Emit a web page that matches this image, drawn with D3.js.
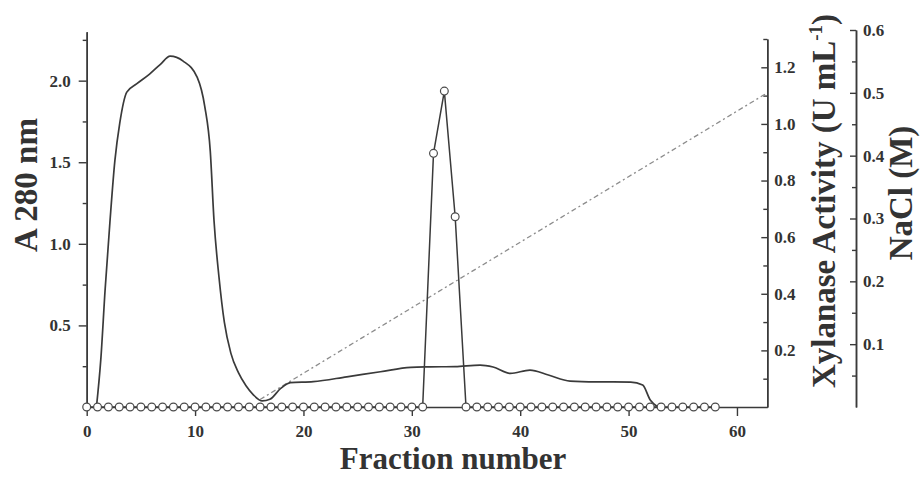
<!DOCTYPE html>
<html>
<head>
<meta charset="utf-8">
<script src="https://cdn.jsdelivr.net/npm/d3@7"></script>
<style>
  html, body { margin: 0; padding: 0; background: #fff; }
  svg { display: block; }
  .tick text { font-family: "Liberation Serif", "Times New Roman", serif; font-weight: bold; font-size: 17px; fill: #333; }
  .title { font-family: "Liberation Serif", "Times New Roman", serif; font-weight: bold; font-size: 33px; fill: #333; }
</style>
</head>
<body>
<svg id="chart" width="920" height="478"></svg>
<script>
// Fraction numbers collected from the column
const fractions = [0,1,2,3,4,5,6,7,8,9,10,11,12,13,14,15,16,17,18,19,20,21,22,23,24,25,26,27,28,29,
                   30,31,32,33,34,35,36,37,38,39,40,41,42,43,44,45,46,47,48,49,50,51,52,53,54,55,56,57,58];
// Xylanase activity per fraction (U mL-1)
const xylanaseActivity = [0,0,0,0,0,0,0,0,0,0,0,0,0,0,0,0,0,0,0,0,0,0,0,0,0,0,0,0,0,0,
                          0,0,0.896,1.116,0.672,0,0,0,0,0,0,0,0,0,0,0,0,0,0,0,0,0,0,0,0,0,0,0,0];
// Protein elution profile (A 280 nm), continuous monitor trace
const a280Fraction = [0.9,1.3,1.7,2.15,2.6,3.05,3.7,4.6,5.8,6.8,7.7,8.9,10.2,10.9,11.4,11.75,12.2,12.7,13.3,14.0,
                      14.7,15.4,16.2,16.9,17.9,18.8,20.9,24,27.1,29.9,31.7,34,36.3,37.5,39.1,40.9,42.6,44.6,47,50.2,51.3,52,52.7];
const a280Value =    [0,0.29,0.72,1.14,1.51,1.74,1.93,1.98,2.04,2.10,2.15,2.12,2.02,1.84,1.57,1.14,0.80,0.52,0.33,0.21,
                      0.13,0.073,0.037,0.047,0.114,0.149,0.155,0.185,0.216,0.243,0.246,0.248,0.257,0.245,0.206,0.226,0.196,0.159,0.154,0.153,0.135,0.043,0];
// Linear NaCl gradient (M)
const naclFraction = [16, 62.8];
const naclMolarity = [0.012, 0.5];

// Tick values
const xTicks = [0,10,20,30,40,50,60];
const a280Major = [0.5,1.0,1.5,2.0];
const a280Minor = [0.25,0.75,1.25,1.75,2.25];
const xylMajor = [0.2,0.4,0.6,0.8,1.0,1.2];
const xylMinor = [0.1,0.3,0.5,0.7,0.9,1.1,1.3];
const naclMajor = [0.1,0.2,0.3,0.4,0.5,0.6];
const naclMinor = [0.05,0.15,0.25,0.35,0.45,0.55];

const svg = d3.select("#chart");
const ink = "#3a3a3a";

const x = d3.scaleLinear().domain([0, 62.8]).range([86.7, 767.3]);
const yA = d3.scaleLinear().domain([0, 2.30]).range([407, 31.7]);
const yX = d3.scaleLinear().domain([0, 1.30]).range([407, 39]);
const yN = d3.scaleLinear().domain([0, 0.6]).range([407, 30]);

function styleAxis(g) {
  g.selectAll("path.domain").attr("stroke", ink).attr("stroke-width", 1.5);
  g.selectAll(".tick line").attr("stroke", ink).attr("stroke-width", 1.4);
}

// Bottom axis
svg.append("g").attr("transform", `translate(0,${yA(0)})`)
  .call(d3.axisBottom(x).tickValues(xTicks).tickSize(9).tickSizeOuter(0).tickPadding(9).tickFormat(d3.format("d")))
  .call(styleAxis);

// Left axis: A 280 nm
svg.append("g").attr("transform", `translate(${x(0)},0)`)
  .call(d3.axisLeft(yA).tickValues(a280Minor).tickSize(4).tickSizeOuter(0).tickFormat(""))
  .call(styleAxis);
svg.append("g").attr("transform", `translate(${x(0)},0)`)
  .call(d3.axisLeft(yA).tickValues(a280Major).tickSize(8).tickSizeOuter(0).tickPadding(8).tickFormat(d3.format(".1f")))
  .call(styleAxis);

// Right axis: xylanase activity (ticks point inward)
const xylX = x(62.8);
svg.append("g").attr("transform", `translate(${xylX},0)`)
  .call(d3.axisRight(yX).tickValues(xylMinor).tickSize(-4).tickSizeOuter(0).tickFormat(""))
  .call(styleAxis);
svg.append("g").attr("transform", `translate(${xylX},0)`)
  .call(d3.axisRight(yX).tickValues(xylMajor).tickSize(-6).tickSizeOuter(0).tickPadding(7).tickFormat(d3.format(".1f")))
  .call(styleAxis);

// Outer right axis: NaCl
const naclX = 856;
svg.append("g").attr("transform", `translate(${naclX},0)`)
  .call(d3.axisRight(yN).tickValues(naclMinor).tickSize(-4).tickSizeOuter(0).tickFormat(""))
  .call(styleAxis);
svg.append("g").attr("transform", `translate(${naclX},0)`)
  .call(d3.axisRight(yN).tickValues(naclMajor).tickSize(-6).tickSizeOuter(0).tickPadding(7).tickFormat(d3.format(".1f")))
  .call(styleAxis);

// NaCl gradient
svg.append("path")
  .datum(naclFraction.map((f, i) => [f, naclMolarity[i]]))
  .attr("fill", "none").attr("stroke", "#8c8c8c").attr("stroke-width", 1.3)
  .attr("stroke-dasharray", "5,3,2,3")
  .attr("d", d3.line().x(d => x(d[0])).y(d => yN(d[1])));

// A 280 nm trace
svg.append("path")
  .datum(a280Fraction.map((f, i) => [f, a280Value[i]]))
  .attr("fill", "none").attr("stroke", ink).attr("stroke-width", 1.7)
  .attr("stroke-linejoin", "round")
  .attr("d", d3.line().curve(d3.curveMonotoneX).x(d => x(d[0])).y(d => yA(d[1])));

// Xylanase activity
const xylData = fractions.map((f, i) => [f, xylanaseActivity[i]]);
svg.append("path")
  .datum(xylData)
  .attr("fill", "none").attr("stroke", ink).attr("stroke-width", 1.5)
  .attr("d", d3.line().x(d => x(d[0])).y(d => yX(d[1])));
svg.append("g").selectAll("circle").data(xylData).join("circle")
  .attr("cx", d => x(d[0])).attr("cy", d => yX(d[1])).attr("r", 3.9)
  .attr("fill", "#fff").attr("stroke", "#4a4a4a").attr("stroke-width", 1.2);

// Axis titles
svg.append("text").attr("class", "title")
  .attr("transform", "translate(37,185) rotate(-90)").attr("text-anchor", "middle")
  .text("A 280 nm");
svg.append("text").attr("class", "title")
  .attr("x", 453).attr("y", 469).attr("text-anchor", "middle")
  .style("font-size", "31px")
  .text("Fraction number");
const xylTitle = svg.append("text").attr("class", "title")
  .attr("transform", "translate(835,201) rotate(-90)").attr("text-anchor", "middle");
xylTitle.append("tspan").text("Xylanase Activity (U mL");
xylTitle.append("tspan").attr("dy", -13).style("font-size", "19px").text("-1");
xylTitle.append("tspan").attr("dy", 13).text(")");
svg.append("text").attr("class", "title")
  .attr("transform", "translate(912,193) rotate(-90)").attr("text-anchor", "middle")
  .text("NaCl (M)");
</script>
</body>
</html>
